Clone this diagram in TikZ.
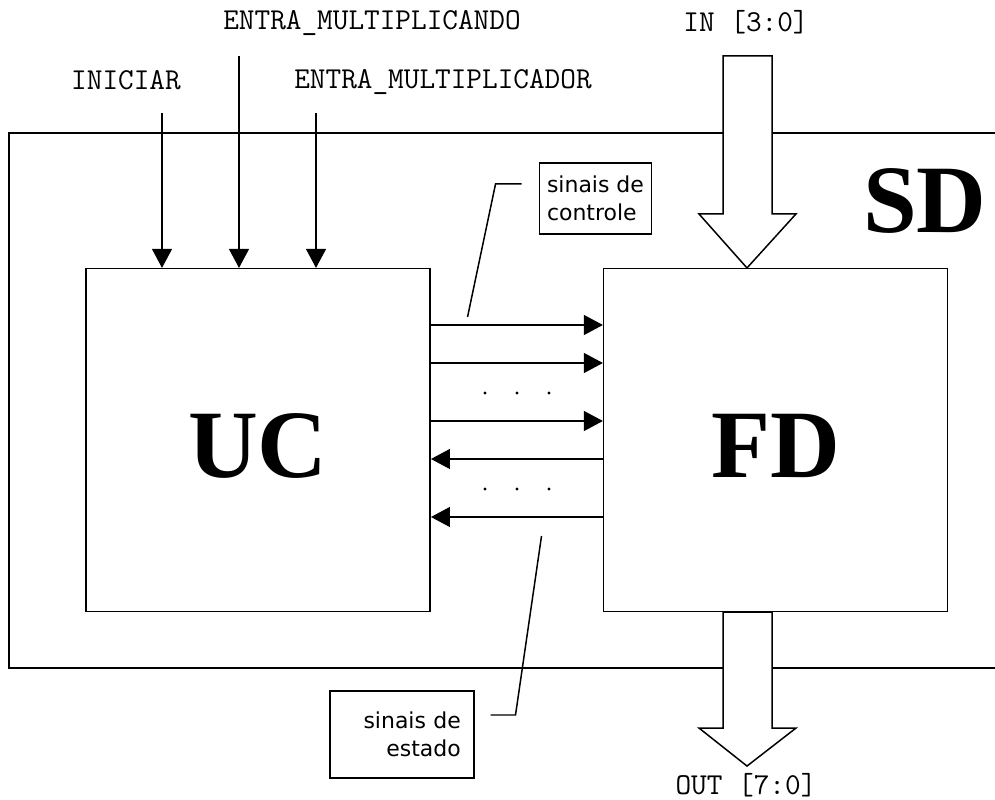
\documentclass[tikz,border=0pt]{standalone}
\usepackage{fontspec}
\setmainfont{Liberation Serif}
\newfontfamily\notefont{DejaVu Sans}
\usepackage{tikz}
\usetikzlibrary{arrows.meta,calc,positioning}

\begin{document}
\begin{tikzpicture}[x=0.02cm,y=-0.02cm,line width=0.85pt,
 >={Triangle[length=10.8pt,width=11.3pt]},
 block/.style={draw,inner sep=0pt,minimum width=196pt,minimum height=195pt,
  text height=43pt,text depth=0pt,font=\fontsize{55}{60}\selectfont\bfseries},
 sigtext/.style={inner sep=0pt,font=\ttfamily\fontsize{17.3}{20}\selectfont},
 sig/.style={->},
 bus/.style={fill=white,line join=miter},
 notebox/.style={draw,inner ysep=0pt,font=\notefont\fontsize{12.5}{16}\selectfont},
 callout/.style={line join=miter}]
\useasboundingbox (0,0) rectangle (995,800);
\draw (1000,133) -- (9,133) -- (9,668) -- (1000,668);
\node[block] (uc) at (258,440) {UC};
\node[block,minimum width=195.6pt] (fd) at (775.5,440) {FD};
\node[font=\fontsize{55}{60}\selectfont\bfseries,inner sep=0pt] (sd) at (925,201) {SD};

\node[sigtext] (iniciar) at (126,80) {INICIAR};
\node[sigtext] (mcando) at (372,23) {ENTRA\_MULTIPLICANDO};
\node[sigtext] (mcador) at (443,82) {ENTRA\_MULTIPLICADOR};
\coordinate (iniciar-in) at (162,113);
\coordinate (mcando-in) at (239,56);
\coordinate (mcador-in) at (316,113);
\foreach \src in {iniciar-in,mcando-in,mcador-in}
 \draw[sig] (\src) -- (\src |- uc.north);

\foreach \yy in {325,363,421}
 \draw[sig] (uc.east |- 0,\yy) -- (fd.west |- 0,\yy);
\foreach \yy in {459,517}
 \draw[sig] (fd.west |- 0,\yy) -- (uc.east |- 0,\yy);
\foreach \yy in {393,489}
 \foreach \xx in {485,517,549}
  \fill (\xx,\yy) circle (0.95pt);

\node[sigtext] (in) at (746,22) {IN [3:0]};
\draw[bus] (fd.north -| 747,0) -- ++(-48,-54) -- ++(24,0) -- ++(0,-158)
 -- ++(49,0) -- ++(0,158) -- ++(24,0) -- cycle;
\draw[bus] (fd.south -| 723,0) -- ++(0,116) -- ++(-24,0) -- ++(48,38)
 -- ++(49,-38) -- ++(-24,0) -- ++(0,-116) -- cycle;
\node[sigtext] (out) at (746,785) {OUT [7:0]};

\node[notebox,align=left,minimum width=64pt,minimum height=40.2pt] (ctl)
 at (595.5,198.5) {sinais de\\controle};
\draw[callout] ($(ctl.west)+(-17,-14.5)$) -- ++(-26,0) -- ++(-28,133);
\node[notebox,align=right,text width=66.9pt,inner xsep=7.4pt,minimum height=49.3pt] (est)
 at (402,734.5) {sinais de\\estado};
\draw[callout] ($(est.east)+(16,-19.5)$) -- ++(25,0) -- ++(26,-179);
\end{tikzpicture}
\end{document}
